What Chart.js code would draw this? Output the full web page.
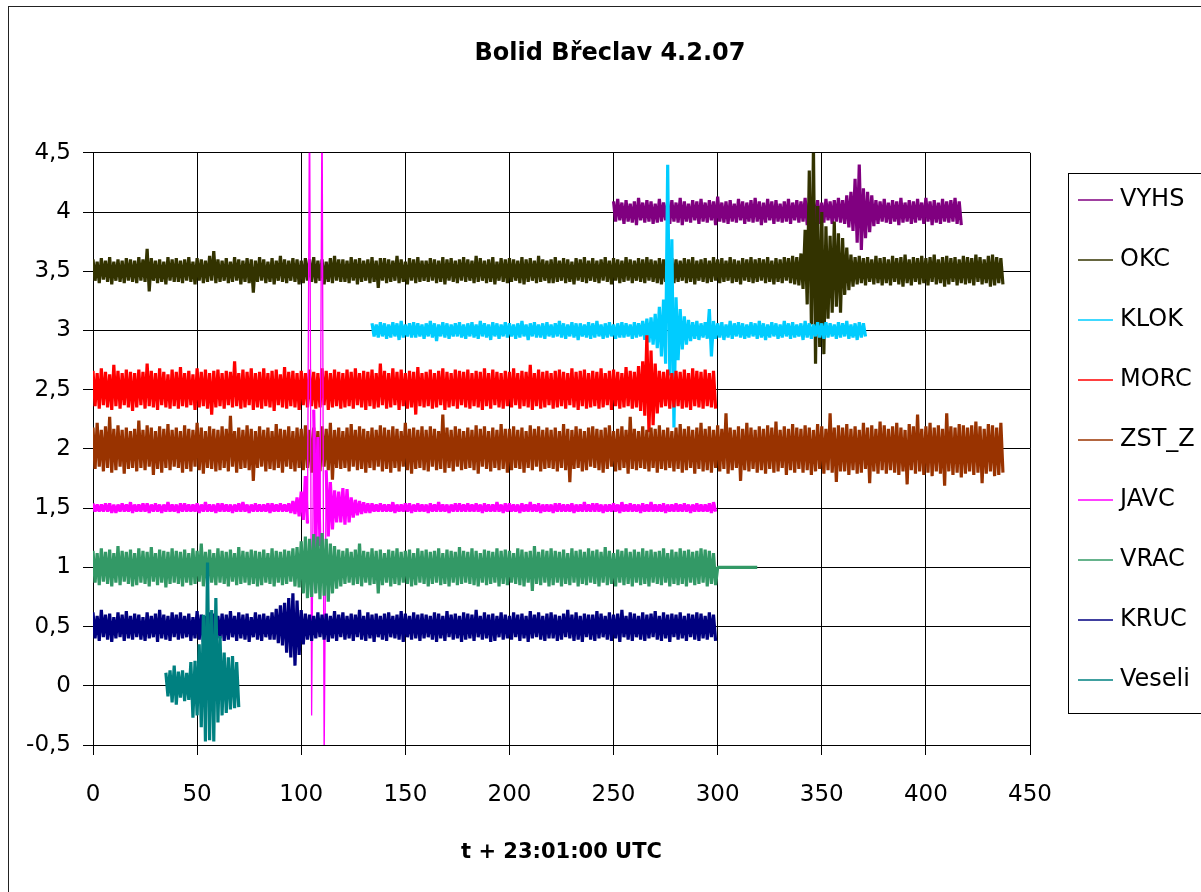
<!DOCTYPE html>
<html>
<head>
<meta charset="utf-8">
<title>Bolid Břeclav 4.2.07</title>
<script src="https://cdn.jsdelivr.net/npm/chart.js@4.4.1/dist/chart.umd.min.js"></script>
<style>
  html, body { margin: 0; padding: 0; background: #fff; }
</style>
</head>
<body>
<canvas id="seismoChart" width="1201" height="892"></canvas>
<script>
// stations in legend order, baseline offset of each trace and start time (s)
const stations = ['VYHS', 'OKC', 'KLOK', 'MORC', 'ZST_Z', 'JAVC', 'VRAC', 'KRUC', 'Veseli']
const baselines = [4, 3.5, 3, 2.5, 2, 1.5, 1, 0.5, 0]
const startTimes = [250, 0, 134, 0, 0, 0, 0, 0, 35]
const stationColors = ['#800080', '#333300', '#00ccff', '#ff0000', '#993300', '#ff00ff', '#339966', '#000080', '#008080']

const xTickLabels = ['0', '50', '100', '150', '200', '250', '300', '350', '400', '450']
const yTickLabels = ['-0,5', '0', '0,5', '1', '1,5', '2', '2,5', '3', '3,5', '4', '4,5']

// every trace is read as 2 s bins: max above baseline (hi) then max below (lo), in 0.01 units
const binSeconds = 2

const vyhsHi = [
  9, 11, 8, 10, 7, 9, 12, 8, 10, 9,
  7, 11, 8, 9, 10, 8, 12, 9, 7, 10,
  9, 11, 8, 10, 9, 13, 8, 9, 10, 7,
  11, 9, 8, 10, 12, 9, 8, 11, 9, 10,
  7, 9, 11, 8, 10, 9, 12, 8, 9, 10,
  8, 11, 9, 10, 12, 10, 14, 17, 28, 40,
  20, 17, 14, 10, 9, 11, 8, 10, 9, 12,
  8, 10, 9, 11, 8, 12, 9, 10, 8, 11,
  9, 10, 12, 9]
const vyhsLo = [
  8, 7, 10, 8, 9, 11, 7, 9, 8, 10,
  9, 8, 7, 10, 8, 9, 11, 8, 9, 7,
  10, 8, 9, 7, 11, 8, 9, 10, 8, 9,
  7, 10, 8, 9, 8, 11, 9, 7, 10, 8,
  9, 8, 10, 7, 9, 8, 11, 9, 8, 10,
  9, 7, 10, 8, 9, 10, 13, 16, 26, 32,
  22, 17, 12, 10, 8, 9, 10, 8, 11, 9,
  8, 10, 9, 7, 10, 8, 11, 9, 10, 8,
  9, 8, 10, 11]

const okcHi = [
  10, 8, 11, 9, 12, 8, 10, 9, 11, 10,
  9, 12, 10, 19, 11, 9, 10, 8, 12, 10,
  11, 9, 10, 12, 8, 11, 10, 9, 13, 17,
  10, 9, 11, 8, 12, 10, 9, 11, 10, 9,
  12, 10, 8, 11, 9, 13, 10, 9, 11, 10,
  9, 11, 10, 12, 9, 10, 8, 11, 13, 10,
  10, 9, 12, 10, 11, 9, 10, 12, 9, 11,
  11, 10, 9, 13, 10, 8, 11, 10, 12, 9,
  9, 11, 10, 9, 12, 10, 11, 9, 10, 12,
  10, 9, 13, 11, 9, 10, 12, 8, 11, 10,
  11, 10, 9, 12, 10, 11, 9, 13, 10, 9,
  10, 12, 9, 11, 10, 8, 11, 10, 12, 9,
  11, 9, 10, 12, 9, 11, 10, 9, 12, 10,
  9, 11, 10, 12, 10, 9, 11, 10, 12, 11,
  10, 9, 11, 10, 12, 9, 10, 11, 9, 12,
  10, 11, 9, 12, 10, 9, 11, 10, 12, 10,
  11, 10, 12, 9, 11, 10, 12, 11, 13, 12,
  15, 35, 85, 105, 55, 50, 38, 30, 42, 32,
  28, 20, 14, 12, 13, 11, 12, 10, 13, 11,
  12, 10, 13, 11, 12, 14, 10, 12, 11, 13,
  11, 12, 14, 10, 12, 13, 11, 12, 10, 13,
  12, 11, 14, 12, 10, 13, 14, 12, 11]
const okcLo = [
  8, 10, 7, 9, 11, 8, 9, 10, 8, 9,
  10, 8, 9, 17, 8, 10, 9, 11, 8, 9,
  9, 10, 8, 9, 11, 8, 10, 9, 8, 10,
  9, 8, 10, 9, 8, 11, 9, 10, 18, 9,
  8, 10, 9, 11, 8, 9, 10, 8, 9, 11,
  10, 8, 9, 10, 8, 11, 9, 10, 8, 9,
  9, 10, 8, 11, 9, 8, 10, 9, 14, 8,
  10, 9, 8, 10, 9, 11, 8, 10, 9, 8,
  9, 8, 10, 9, 11, 8, 9, 10, 8, 9,
  8, 10, 9, 8, 10, 9, 11, 8, 9, 10,
  9, 8, 10, 11, 9, 8, 10, 9, 8, 10,
  10, 9, 8, 10, 9, 11, 8, 9, 10, 8,
  9, 10, 8, 9, 11, 8, 10, 9, 8, 10,
  8, 9, 10, 8, 9, 10, 11, 9, 13, 10,
  9, 8, 10, 9, 11, 8, 9, 10, 9, 8,
  10, 9, 8, 10, 9, 11, 8, 9, 10, 9,
  8, 10, 9, 11, 9, 10, 8, 10, 11, 12,
  15, 28, 45, 78, 64, 70, 40, 35, 30, 35,
  20, 16, 13, 11, 10, 12, 9, 11, 10, 12,
  10, 12, 9, 11, 13, 10, 12, 9, 11, 10,
  12, 9, 11, 10, 13, 11, 9, 12, 10, 11,
  10, 12, 9, 11, 10, 13, 12, 10, 11]

const klokHi = [
  6, 5, 7, 6, 5, 7, 6, 8, 5, 6,
  7, 6, 5, 6, 8, 6, 5, 7, 6, 5,
  6, 7, 5, 6, 7, 5, 8, 6, 5, 7,
  6, 5, 7, 6, 5, 6, 8, 5, 6, 7,
  5, 6, 7, 5, 6, 8, 6, 5, 7, 6,
  6, 5, 7, 6, 8, 5, 6, 7, 5, 6,
  7, 6, 5, 7, 6, 8, 10, 11, 14, 20,
  26, 140, 77, 28, 18, 12, 9, 7, 8, 6,
  7, 18, 8, 6, 7, 5, 8, 6, 7, 6,
  5, 7, 6, 8, 6, 5, 7, 6, 5, 8,
  6, 7, 5, 6, 8, 6, 5, 7, 6, 7,
  6, 5, 7, 6, 8, 5, 6, 7, 6]
const klokLo = [
  5, 6, 5, 7, 6, 5, 8, 6, 5, 6,
  6, 5, 7, 5, 6, 9, 5, 6, 7, 5,
  5, 6, 7, 5, 6, 7, 5, 6, 8, 5,
  7, 5, 6, 5, 7, 6, 5, 8, 5, 6,
  6, 7, 5, 6, 5, 6, 7, 5, 6, 8,
  5, 6, 7, 6, 5, 7, 6, 5, 7, 6,
  6, 5, 7, 6, 5, 8, 10, 12, 15, 22,
  28, 38, 82, 25, 16, 12, 9, 7, 8, 6,
  7, 22, 7, 6, 8, 6, 7, 5, 6, 7,
  6, 5, 7, 6, 8, 6, 5, 7, 6, 5,
  7, 6, 5, 8, 6, 7, 5, 6, 7, 6,
  5, 7, 6, 5, 7, 6, 8, 6, 5]

const morcHi = [
  16, 14, 18, 15, 13, 21, 16, 14, 17, 15,
  14, 17, 15, 22, 16, 14, 18, 15, 13, 17,
  15, 19, 14, 16, 13, 18, 15, 17, 14, 16,
  17, 14, 16, 15, 24, 14, 17, 15, 18, 14,
  15, 18, 14, 16, 17, 13, 19, 15, 16, 14,
  16, 14, 17, 15, 14, 18, 16, 14, 17, 15,
  14, 17, 15, 18, 14, 16, 15, 17, 14, 22,
  16, 14, 18, 15, 17, 14, 16, 15, 19, 14,
  15, 17, 14, 16, 18, 15, 14, 17, 16, 15,
  17, 14, 16, 15, 18, 14, 17, 15, 14, 16,
  15, 18, 14, 16, 15, 21, 14, 17, 15, 16,
  14, 16, 17, 15, 14, 18, 15, 16, 17, 14,
  16, 15, 18, 14, 16, 17, 15, 14, 19, 16,
  15, 20, 24, 46, 33, 22, 16, 15, 17, 14,
  16, 15, 17, 14, 18, 16, 15, 17, 14, 16]
const morcLo = [
  14, 16, 13, 15, 17, 14, 16, 13, 15, 18,
  15, 13, 16, 14, 15, 17, 13, 15, 16, 14,
  16, 14, 15, 13, 17, 15, 14, 16, 21, 15,
  14, 16, 13, 15, 14, 16, 15, 13, 17, 15,
  16, 14, 15, 18, 13, 15, 16, 14, 15, 17,
  13, 15, 14, 16, 15, 13, 17, 15, 14, 16,
  15, 14, 16, 13, 15, 17, 14, 16, 15, 13,
  16, 15, 13, 17, 14, 16, 15, 21, 14, 15,
  14, 16, 15, 13, 17, 15, 14, 16, 13, 15,
  16, 14, 15, 17, 14, 16, 13, 15, 16, 14,
  15, 13, 16, 14, 15, 17, 14, 16, 15, 13,
  16, 15, 14, 16, 13, 15, 17, 14, 16, 15,
  14, 16, 15, 13, 17, 14, 16, 15, 14, 16,
  15, 18, 22, 36, 30, 20, 15, 14, 16, 15,
  14, 16, 15, 17, 14, 15, 16, 14, 15, 16]

const zstHi = [
  18, 22, 16, 19, 27, 17, 20, 16, 18, 15,
  17, 24, 16, 20, 18, 15, 19, 17, 21, 16,
  18, 15, 20, 17, 16, 22, 18, 15, 19, 17,
  16, 19, 17, 28, 15, 18, 16, 20, 17, 15,
  19, 16, 18, 15, 21, 17, 16, 19, 15, 18,
  17, 20, 16, 18, 15, 19, 17, 22, 16, 18,
  15, 18, 21, 16, 19, 17, 15, 18, 16, 20,
  18, 16, 19, 17, 15, 22, 17, 18, 16, 19,
  16, 19, 17, 15, 29, 18, 16, 19, 17, 15,
  18, 16, 20, 17, 19, 15, 18, 16, 21, 17,
  17, 19, 16, 18, 15, 20, 17, 19, 16, 18,
  16, 18, 15, 21, 17, 16, 19, 17, 15, 18,
  19, 17, 16, 18, 20, 15, 17, 19, 16, 27,
  17, 15, 19, 16, 18, 17, 20, 16, 18, 15,
  18, 21, 17, 19, 16, 18, 22, 17, 19, 16,
  20, 17, 30, 18, 16, 19, 17, 22, 18, 16,
  19, 17, 20, 18, 23, 16, 19, 17, 21, 18,
  17, 20, 18, 16, 21, 19, 17, 30, 18, 20,
  18, 21, 17, 19, 16, 22, 18, 20, 17, 23,
  20, 17, 19, 22, 18, 16, 21, 19, 29, 17,
  19, 22, 18, 20, 17, 30, 19, 18, 21, 20,
  18, 20, 23, 19, 17, 21, 20, 18, 22]
const zstLo = [
  17, 15, 19, 16, 20, 18, 15, 21, 17, 16,
  19, 16, 18, 15, 22, 17, 20, 16, 18, 15,
  16, 20, 17, 19, 15, 18, 21, 16, 17, 19,
  18, 16, 19, 15, 20, 17, 16, 18, 27, 16,
  15, 19, 17, 18, 16, 20, 15, 17, 19, 16,
  18, 16, 20, 17, 19, 15, 18, 26, 16, 17,
  16, 19, 15, 18, 17, 20, 16, 18, 15, 19,
  17, 20, 16, 19, 15, 18, 21, 17, 16, 18,
  19, 15, 18, 17, 20, 16, 19, 15, 18, 17,
  16, 18, 21, 15, 17, 19, 16, 18, 17, 20,
  18, 16, 17, 20, 16, 18, 15, 19, 17, 16,
  17, 19, 16, 18, 28, 17, 16, 19, 18, 15,
  16, 18, 20, 17, 15, 19, 18, 16, 21, 17,
  18, 16, 17, 19, 16, 20, 17, 18, 16, 19,
  17, 20, 18, 16, 21, 17, 19, 18, 20, 16,
  19, 17, 21, 18, 16, 27, 18, 19, 17, 20,
  18, 21, 17, 20, 19, 16, 22, 18, 20, 17,
  20, 18, 22, 19, 17, 21, 18, 20, 28, 19,
  19, 22, 18, 21, 20, 17, 29, 19, 21, 18,
  21, 18, 20, 22, 19, 30, 18, 21, 19, 22,
  20, 23, 19, 21, 31, 19, 22, 20, 24, 21,
  19, 22, 20, 29, 21, 19, 23, 22, 20]

const javcHi = [
  4, 3, 3, 4, 4, 3, 3, 4, 3, 5,
  3, 3, 4, 4, 3, 4, 3, 3, 5, 3,
  3, 4, 4, 3, 3, 4, 3, 5, 3, 3,
  4, 4, 3, 3, 3, 4, 5, 3, 3, 4,
  3, 3, 4, 4, 3, 4, 3, 4, 6, 9,
  14, 27, 360, 83, 60, 360, 32, 22, 15, 14,
  17, 16, 9, 7, 6, 5, 4, 4, 3, 4,
  3, 3, 5, 3, 3, 4, 4, 3, 4, 3,
  3, 4, 3, 5, 3, 3, 3, 4, 4, 3,
  4, 3, 4, 3, 4, 3, 3, 5, 3, 4,
  4, 3, 3, 4, 3, 5, 3, 4, 3, 3,
  3, 4, 4, 3, 3, 4, 3, 3, 5, 3,
  4, 4, 3, 3, 3, 4, 3, 5, 3, 4,
  3, 3, 4, 3, 5, 3, 3, 4, 3, 3,
  4, 3, 4, 3, 3, 4, 3, 3, 4, 5]
const javcLo = [
  3, 3, 3, 3, 4, 4, 3, 3, 3, 4,
  3, 3, 3, 4, 3, 3, 4, 3, 3, 3,
  4, 3, 3, 3, 3, 4, 3, 3, 3, 4,
  3, 3, 3, 4, 3, 3, 3, 4, 3, 3,
  3, 3, 4, 3, 3, 3, 3, 4, 5, 7,
  10, 13, 175, 35, 32, 215, 24, 18, 12, 12,
  14, 12, 8, 6, 5, 4, 4, 3, 3, 3,
  3, 3, 4, 3, 3, 3, 4, 3, 3, 3,
  4, 3, 3, 3, 3, 4, 3, 3, 3, 3,
  3, 3, 3, 4, 3, 3, 3, 3, 4, 3,
  3, 3, 4, 3, 3, 3, 3, 4, 3, 3,
  4, 3, 3, 3, 3, 4, 3, 3, 3, 3,
  3, 3, 4, 3, 3, 3, 4, 3, 3, 3,
  3, 4, 3, 3, 3, 3, 3, 4, 3, 3,
  3, 3, 3, 4, 3, 3, 3, 3, 4, 3]

// VRAC: last ten bins are the flat stretch after 300 s
const vracHi = [
  14, 12, 16, 13, 15, 12, 18, 14, 13, 15,
  12, 16, 14, 13, 17, 12, 15, 14, 13, 16,
  14, 13, 15, 12, 16, 14, 20, 13, 15, 12,
  16, 14, 13, 15, 12, 17, 14, 13, 15, 14,
  13, 15, 12, 16, 14, 13, 15, 14, 16, 17,
  22, 26, 24, 28, 26, 29, 24, 20, 18, 15,
  14, 16, 13, 15, 20, 14, 13, 16, 14, 15,
  12, 15, 14, 16, 13, 14, 15, 12, 16, 14,
  15, 13, 14, 16, 12, 15, 14, 13, 17, 14,
  13, 16, 14, 12, 15, 14, 13, 16, 14, 15,
  14, 12, 16, 15, 13, 14, 18, 13, 15, 14,
  16, 14, 13, 15, 12, 16, 14, 15, 13, 16,
  14, 15, 13, 17, 14, 12, 15, 14, 16, 13,
  15, 13, 16, 14, 15, 13, 14, 16, 12, 15,
  13, 16, 14, 15, 13, 14, 16, 15, 14, 12,
  0, 0, 0, 0, 0, 0, 0, 0, 0, 0]
const vracLo = [
  13, 15, 12, 14, 16, 13, 15, 12, 14, 16,
  15, 13, 14, 16, 12, 15, 13, 17, 14, 13,
  14, 16, 13, 15, 14, 12, 16, 14, 13, 15,
  13, 14, 16, 12, 15, 14, 13, 15, 14, 16,
  15, 13, 14, 16, 13, 15, 14, 12, 16, 17,
  22, 26, 25, 22, 27, 24, 29, 22, 18, 16,
  14, 13, 15, 14, 16, 13, 15, 14, 22, 15,
  13, 16, 14, 15, 13, 14, 16, 15, 13, 14,
  16, 14, 13, 15, 14, 16, 13, 15, 14, 13,
  14, 15, 16, 13, 15, 14, 13, 16, 14, 15,
  13, 14, 15, 16, 13, 20, 14, 15, 13, 16,
  15, 13, 16, 14, 15, 13, 16, 14, 15, 13,
  14, 16, 13, 15, 14, 16, 13, 15, 14, 16,
  13, 15, 14, 16, 13, 14, 15, 13, 16, 14,
  15, 14, 16, 13, 15, 14, 13, 16, 14, 15,
  0, 0, 0, 0, 0, 0, 0, 0, 0, 0]

const krucHi = [
  12, 9, 14, 10, 11, 8, 12, 10, 13, 9,
  11, 10, 8, 12, 9, 11, 14, 10, 9, 12,
  10, 12, 9, 11, 8, 13, 10, 9, 12, 11,
  9, 11, 10, 13, 9, 12, 10, 11, 8, 12,
  10, 11, 9, 12, 15, 18, 20, 24, 28, 22,
  14, 11, 10, 9, 12, 10, 11, 9, 13, 10,
  12, 9, 11, 10, 14, 9, 12, 10, 11, 9,
  11, 12, 9, 10, 13, 11, 9, 12, 10, 11,
  10, 9, 12, 11, 9, 13, 10, 11, 9, 12,
  11, 10, 14, 9, 12, 10, 11, 9, 12, 10,
  9, 12, 10, 11, 9, 13, 10, 12, 9, 11,
  12, 10, 9, 11, 14, 10, 12, 9, 11, 10,
  10, 13, 11, 9, 12, 10, 11, 14, 9, 12,
  11, 9, 12, 10, 11, 13, 9, 12, 10, 11,
  10, 12, 9, 11, 10, 12, 11, 9, 12, 10]
const krucLo = [
  10, 12, 9, 11, 13, 10, 9, 12, 10, 11,
  9, 11, 12, 10, 9, 13, 10, 11, 12, 9,
  11, 10, 9, 12, 10, 11, 13, 9, 10, 12,
  10, 12, 11, 9, 12, 10, 11, 13, 9, 11,
  12, 9, 11, 11, 14, 16, 22, 26, 33, 24,
  15, 11, 12, 10, 9, 11, 13, 10, 12, 9,
  11, 10, 12, 9, 11, 12, 10, 13, 9, 11,
  12, 9, 10, 11, 13, 9, 11, 10, 12, 10,
  9, 11, 13, 10, 12, 9, 11, 10, 13, 11,
  10, 12, 9, 11, 10, 13, 12, 9, 11, 10,
  11, 9, 12, 10, 13, 10, 9, 11, 12, 10,
  10, 12, 11, 9, 10, 12, 11, 13, 9, 11,
  12, 10, 9, 11, 12, 10, 13, 9, 11, 12,
  9, 11, 12, 10, 9, 11, 12, 10, 13, 9,
  11, 10, 12, 9, 11, 12, 10, 11, 9, 12]

const veseliHi = [11, 13, 17, 12, 13, 11, 20, 21, 35, 60, 104, 64, 74, 42, 28, 24, 25, 20]
const veseliLo = [9, 14, 16, 10, 13, 12, 27, 25, 35, 47, 46, 47, 31, 25, 23, 20, 19, 18]

const traceHi = [vyhsHi, okcHi, klokHi, morcHi, zstHi, javcHi, vracHi, krucHi, veseliHi]
const traceLo = [vyhsLo, okcLo, klokLo, morcLo, zstLo, javcLo, vracLo, krucLo, veseliLo]

// each bin gives two points: its peak above the baseline, then its trough below
const buildTrace = (k) => {
    const hi = traceHi[k], lo = traceLo[k]
    const pts = []
    const n = Math.min(hi.length, lo.length)
    for (let i = 0; i < n; i++) {
        const t = startTimes[k] + i * binSeconds
        pts.push({ x: t, y: baselines[k] + hi[i] / 100 })
        pts.push({ x: t + binSeconds / 2, y: baselines[k] - lo[i] / 100 })
    }
    return pts
}

// thick strokes fill the band, only the glitch lines across the whole plot stay thin
const swingWidth = (ctx) => Math.abs(ctx.p1.y - ctx.p0.y) > 230 ? 1.3 : undefined

const datasets = stations.map((name, k) => ({
    label: name,
    data: buildTrace(k),
    borderColor: stationColors[k],
    borderWidth: 3.2,
    borderJoinStyle: 'bevel',
    segment: { borderWidth: swingWidth },
    pointRadius: 0,
    pointHoverRadius: 0,
    tension: 0,
    fill: false,
    clip: 0,
    // excel puts later series on top
    order: stations.length - k
}))

const axisFont = { family: '"DejaVu Sans", sans-serif', size: 23 }

const chartFrame = {
    id: 'chartFrame',
    beforeDraw(chart) {
        const ctx = chart.ctx
        ctx.save()
        ctx.fillStyle = '#fff'
        ctx.fillRect(0, 0, chart.width, chart.height)
        ctx.strokeStyle = '#222'
        ctx.lineWidth = 1
        ctx.strokeRect(8.5, 6.5, 1300, 1000)
        ctx.restore()
    }
}

const seriesKey = {
    id: 'seriesKey',
    afterDraw(chart) {
        const ctx = chart.ctx
        ctx.save()
        ctx.strokeStyle = '#000'
        ctx.lineWidth = 1
        ctx.strokeRect(1068.5, 173.5, 140, 540)
        ctx.font = '24px "DejaVu Sans", sans-serif'
        ctx.textBaseline = 'middle'
        ctx.fillStyle = '#000'
        chart.data.datasets.forEach((ds, i) => {
            const y = 200 + i * 60
            ctx.globalAlpha = 0.75
            ctx.strokeStyle = ds.borderColor
            ctx.lineWidth = 2
            ctx.beginPath()
            ctx.moveTo(1078, y)
            ctx.lineTo(1113, y)
            ctx.stroke()
            ctx.globalAlpha = 1
            ctx.fillText(ds.label, 1120, y)
        })
        ctx.restore()
    }
}

const seismoChart = new Chart('seismoChart', {
    type: 'line',
    data: { datasets: datasets },
    plugins: [chartFrame, seriesKey],
    options: {
        responsive: false,
        animation: false,
        events: [],
        layout: { padding: { left: 19, right: 0, top: 0, bottom: 0 } },
        plugins: {
            legend: { display: false },
            tooltip: { enabled: false },
            title: {
                display: true,
                text: 'Bolid Břeclav 4.2.07',
                color: '#000',
                font: { family: '"DejaVu Sans", sans-serif', size: 24, weight: 'bold' },
                padding: { top: 39, bottom: 85 }
            }
        },
        scales: {
            x: {
                type: 'linear',
                min: 0,
                max: 450,
                ticks: {
                    stepSize: 50,
                    autoSkip: false,
                    maxRotation: 0,
                    color: '#000',
                    font: axisFont,
                    padding: 26,
                    callback: (v, i) => xTickLabels[i]
                },
                grid: { color: '#000', lineWidth: 1, tickLength: 10 },
                border: { color: '#000', width: 1 },
                title: {
                    display: true,
                    text: 't + 23:01:00 UTC',
                    color: '#000',
                    font: { family: '"DejaVu Sans", sans-serif', size: 21, weight: 'bold' },
                    padding: { top: 0, bottom: 27 }
                },
                afterFit: (s) => { s.height = 147 }
            },
            y: {
                type: 'linear',
                min: -0.5,
                max: 4.5,
                ticks: {
                    stepSize: 0.5,
                    color: '#000',
                    font: axisFont,
                    padding: 12,
                    callback: (v, i) => yTickLabels[i]
                },
                grid: { color: '#000', lineWidth: 1, tickLength: 10 },
                border: { color: '#000', width: 1 },
                afterFit: (s) => { s.width = 74 }
            },
            // empty axis only keeps the space for the key on the right
            keySpace: {
                type: 'linear',
                position: 'right',
                grid: { display: false },
                ticks: { display: false },
                border: { display: false },
                afterFit: (s) => { s.width = 171 }
            }
        }
    }
})
</script>
</body>
</html>
